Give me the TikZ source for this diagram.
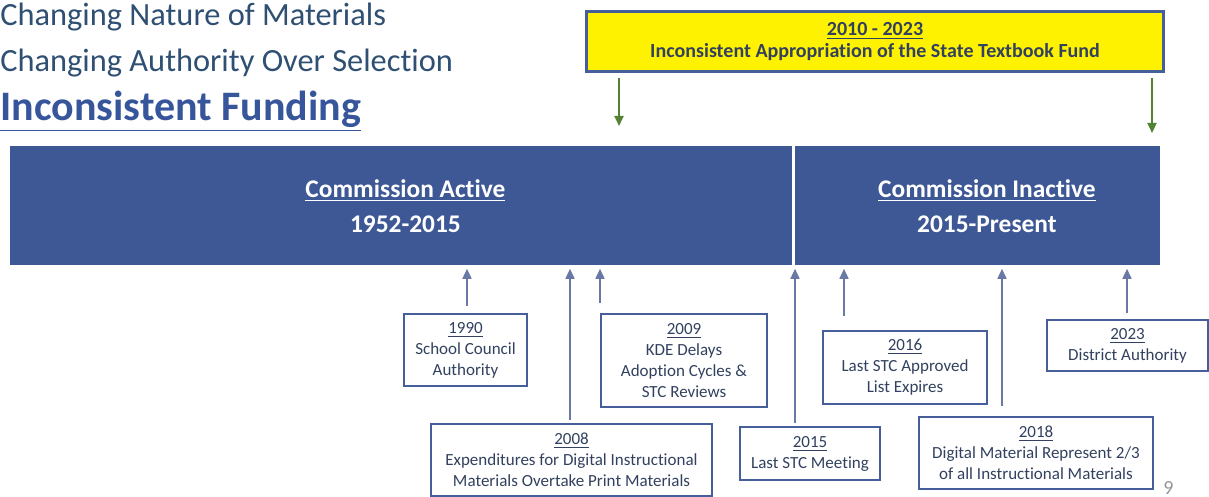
\documentclass[tikz,border=0pt]{standalone}
\usepackage{fontspec}
\setmainfont{Carlito}[Ligatures={NoCommon}]
\usepackage{xcolor}
\usepackage{tikz}
\usetikzlibrary{arrows.meta,calc}

\definecolor{slate}{RGB}{47,80,115}
\definecolor{fundblue}{RGB}{55,85,155}
\definecolor{barblue}{RGB}{62,88,150}
\definecolor{boxtext}{RGB}{50,65,95}
\definecolor{boxline}{RGB}{70,95,155}
\definecolor{tickblue}{RGB}{105,120,165}
\definecolor{fundgreen}{RGB}{84,130,53}
\definecolor{pagegray}{RGB}{150,150,150}

\begin{document}
\begin{tikzpicture}[x=0.5pt,y=-0.5pt,
  evbox/.style={draw=boxline, line width=1pt, fill=white, text=boxtext, align=center,
    font=\fontsize{8.5}{10.5}\selectfont, inner sep=0pt, anchor=north west},
  barbox/.style={fill=barblue, text=white, align=center, inner sep=0pt, anchor=north west,
    minimum height=59.5pt, font=\bfseries\fontsize{12.7}{17.5}\selectfont},
  tick/.style={draw=tickblue, line width=0.8pt, shorten >=1.5pt,
    -{Triangle[width=4.5pt,length=5pt]}},
  greenarrow/.style={draw=fundgreen, line width=1pt, -{Triangle[width=4.5pt,length=5pt]}}]
\useasboundingbox (0,0) rectangle (1209,497);

% headings
\node[anchor=west, inner sep=0pt, text=slate, font=\fontsize{16.2}{18}\selectfont]
  (hnature) at (0,17) {Changing Nature of Materials};
\node[anchor=west, inner sep=0pt, text=slate, font=\fontsize{16.2}{18}\selectfont]
  (hauthority) at (0,63) {Changing Authority Over Selection};
\node[anchor=west, inner sep=0pt, text=fundblue, font=\bfseries\fontsize{21}{24}\selectfont]
  (hfunding) at (0,111) {\underline{Inconsistent Funding}};

% state textbook fund
\node[draw=boxline, line width=1.5pt, fill=yellow, text=boxtext, align=center, inner sep=0pt,
  anchor=north west, minimum width=288.5pt, minimum height=30pt,
  font=\bfseries\fontsize{10}{11}\selectfont] (fund) at (585,10)
  {\underline{2010 - 2023}\\Inconsistent Appropriation of the State Textbook Fund};
\coordinate (gstart) at (619,78);
\coordinate (gstop) at (619,126);
\coordinate (gendstart) at (1152,78);
\coordinate (gendstop) at (1152,133);
\draw[greenarrow] (gstart) -- (gstop);
\draw[greenarrow] (gendstart) -- (gendstop);

% commission bar
\node[barbox, minimum width=391pt] (active) at (10,146)
  {\hspace{4pt}\underline{Commission Active}\\\hspace{4pt}1952-2015};
\node[barbox, minimum width=182.5pt] (inactive) at (795,146)
  {\hspace{9pt}\underline{Commission Inactive}\\\hspace{9pt}2015-Present};

% events
\node[evbox, minimum width=61.5pt, minimum height=36pt] (e1990) at (403,313)
  {\underline{1990}\\School Council\\Authority};
\node[evbox, minimum width=140.5pt, minimum height=36pt] (e2008) at (430,423)
  {\underline{2008}\\Expenditures for Digital Instructional\\Materials Overtake Print Materials};
\node[evbox, minimum width=83pt, minimum height=46.5pt] (e2009) at (600,313)
  {\underline{2009}\\KDE Delays\\Adoption Cycles \&\\STC Reviews};
\node[evbox, minimum width=70pt, minimum height=26.5pt] (e2015) at (739,426)
  {\underline{2015}\\Last STC Meeting};
\node[evbox, minimum width=82pt, minimum height=36.5pt] (e2016) at (822,330)
  {\underline{2016}\\Last STC Approved\\List Expires};
\node[evbox, minimum width=117pt, minimum height=36pt] (e2018) at (918,416)
  {\underline{2018}\\Digital Material Represent 2/3\\of all Instructional Materials};
\node[evbox, minimum width=80.5pt, minimum height=25.5pt] (e2023) at (1046,319)
  {\underline{2023}\\District Authority};

% ticks up to the bar
\coordinate (t1990) at (467,306);
\coordinate (t2008) at (570,420);
\coordinate (t2009) at (600,303);
\coordinate (t2015) at (795,423);
\coordinate (t2016) at (844,316);
\coordinate (t2018) at (1002,406);
\coordinate (t2023) at (1127,313);
\draw[tick] (t1990) -- (t1990 |- active.south);
\draw[tick] (t2008) -- (t2008 |- active.south);
\draw[tick] (t2009) -- (t2009 |- active.south);
\draw[tick] (t2015) -- (t2015 |- inactive.south);
\draw[tick] (t2016) -- (t2016 |- inactive.south);
\draw[tick] (t2018) -- (t2018 |- inactive.south);
\draw[tick] (t2023) -- (t2023 |- inactive.south);

\node[anchor=south west, inner sep=0pt, text=pagegray, font=\fontsize{10}{12}\selectfont]
  (pagenum) at (1163,495) {9};
\end{tikzpicture}
\end{document}
